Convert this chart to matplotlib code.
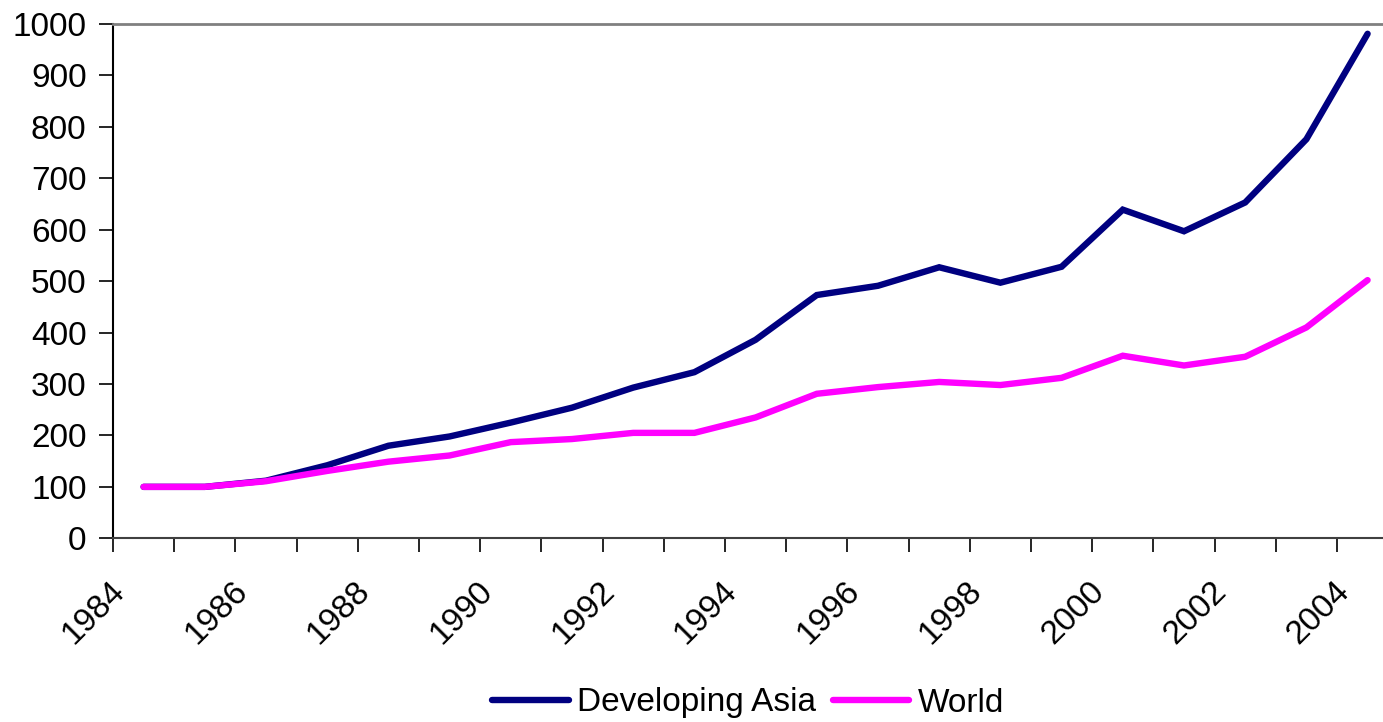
import matplotlib
matplotlib.use("Agg")
import numpy as np
import matplotlib.pyplot as plt
import matplotlib.transforms as mtransforms

plt.rcParams['font.family'] = ['Liberation Sans', 'DejaVu Sans']

# data (index, 1984 = 100)
years = list(range(1984, 2005))
developing_asia = [100, 100, 112, 142, 180, 198, 225, 254, 293, 323, 386,
                   473, 491, 527, 497, 528, 639, 597, 653, 776, 981]
world = [100, 100, 111, 131, 149, 161, 187, 193, 205, 205, 235,
         281, 294, 304, 298, 312, 355, 336, 353, 410, 502]
year_labels = [str(y) if y % 2 == 0 else '' for y in years]

fig = plt.figure(figsize=(13.83, 7.22), dpi=100)
ax = fig.add_axes([113 / 1383, 1 - 538.3 / 722, 1285.2 / 1383, 514.3 / 722])

x = np.arange(len(years))
ax.plot(x, developing_asia, color='#000080', lw=4.6, solid_capstyle='round',
        solid_joinstyle='miter', label='Developing Asia')
ax.plot(x, world, color='#FF00FF', lw=4.6, solid_capstyle='round',
        solid_joinstyle='miter', label='World')

ax.set_xlim(-0.5, len(years) - 0.5)
ax.set_ylim(0, 1000)
ax.set_yticks(range(0, 1001, 100))
ax.tick_params(axis='y', direction='out', length=10, width=1.2, labelsize=24, pad=9)

# category labels at centres, tick marks between categories
ax.set_xticks(x)
ax.set_xticklabels(year_labels, rotation=45, ha='right', rotation_mode='anchor', fontsize=24)
ax.set_xticks(np.arange(-0.5, len(years)), minor=True)
ax.tick_params(axis='x', which='major', length=0, pad=27)
ax.tick_params(axis='x', which='minor', direction='out', length=10, width=1.2)
shift = mtransforms.ScaledTranslation(-34 / 100, 0, fig.dpi_scale_trans)
for lab in ax.get_xticklabels():
    lab.set_transform(lab.get_transform() + shift)

ax.spines['left'].set_color('#000000')
ax.spines['left'].set_linewidth(1.5)
ax.spines['bottom'].set_color('#404040')
ax.spines['bottom'].set_linewidth(1.5)
ax.spines['top'].set_color('#808080')
ax.spines['top'].set_linewidth(2)
ax.spines['right'].set_visible(False)

fig.legend(loc='center', bbox_to_anchor=(748 / 1383, 1 - 703 / 722),
           ncol=2, frameon=False, fontsize=24, handlelength=2.3, columnspacing=0.5,
           handletextpad=0.25, borderpad=0, borderaxespad=0)

fig.savefig('out.png', dpi=100)
